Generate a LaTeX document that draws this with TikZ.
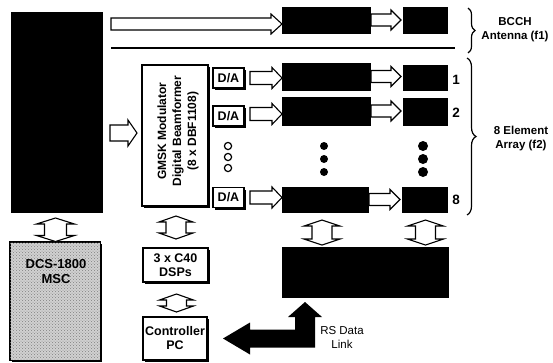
\documentclass[tikz,border=0pt]{standalone}
\usepackage{fontspec}
\setmainfont{Liberation Sans}
\usetikzlibrary{calc,shadows,decorations.pathreplacing,patterns}
\newcommand\harr[5]{%
  \draw[oarr] let \p1=#1, \p2=#2 in (\x1,\y1+#3) -- (\x2-#5,\y1+#3) -- (\x2-#5,\y1+#4) -- (\x2,\y1) -- (\x2-#5,\y1-#4) -- (\x2-#5,\y1-#3) -- (\x1,\y1-#3) -- cycle;}
\newcommand\varr[4]{%
  \draw[oarr] let \p1=#1, \p2=#2 in (\x1,\y1) -- (\x1+#4,\y1-6pt) -- (\x1+#3,\y1-6pt) -- (\x1+#3,\y2+6pt) -- (\x1+#4,\y2+6pt) -- (\x1,\y2) -- (\x1-#4,\y2+6pt) -- (\x1-#3,\y2+6pt) -- (\x1-#3,\y1-6pt) -- (\x1-#4,\y1-6pt) -- cycle;}
\begin{document}
\begin{tikzpicture}[x=1pt,y=-1pt,
  blk/.style={fill=black,draw=black,inner sep=0pt,outer sep=0pt},
  wbox/.style={draw=black,line width=1.3pt,fill=white,inner sep=0pt,outer sep=0pt,align=center,
    font=\fontsize{12.5}{14}\selectfont\bfseries,
    drop shadow={shadow xshift=2pt,shadow yshift=-2pt,fill=black,opacity=1}},
  oarr/.style={draw=black,line width=1.1pt,fill=white,line join=miter},
  lbl/.style={font=\fontsize{11.5}{14}\selectfont\bfseries,align=center,inner sep=0pt},
  num/.style={font=\fontsize{13.5}{15}\selectfont\bfseries,inner sep=0pt},
  brc/.style={decorate,line width=1.2pt}
]
\useasboundingbox (0,0) rectangle (553,362);

% big black block
\node[blk,minimum width=91pt,minimum height=200pt] (big) at (56.5,112) {};

% BCCH row
\node[blk,minimum width=88pt,minimum height=26pt] (b0) at (326,20) {};
\node[blk,minimum width=44pt,minimum height=26pt] (s0) at (425,20) {};
\harr{($(big.north east)+(9,12)$)}{(b0.west)}{6pt}{10pt}{11pt}
\harr{($(b0.east)+(1,0)$)}{($(s0.west)+(-2,0)$)}{6pt}{10pt}{10pt}
\coordinate (la) at ($(big.north east)+(9,36)$);
\coordinate (lb) at (455,48);
\draw[line width=1.3pt] (la) -- (lb);

% GMSK block
\node[wbox,minimum width=66pt,minimum height=141pt] (gm) at (175,135.5) {};
\node[rotate=90,align=center,inner sep=0pt,font=\fontsize{12}{15}\selectfont\bfseries] (gmt) at (178,131)
  {GMSK Modulator\\Digital Beamformer\\(8 x DBF1108)};
\harr{($(big.east)+(8,21)$)}{($(gm.west)+(-5,0)$)}{8pt}{13pt}{9pt}

% D/A boxes
\node[wbox,minimum width=31pt,minimum height=20pt] (d1) at (228.5,78) {D/A};
\node[wbox,minimum width=31pt,minimum height=20pt] (d2) at (228.5,116) {D/A};
\node[wbox,minimum width=31pt,minimum height=20pt] (d8) at (228.5,197.5) {D/A};
\foreach \yy in {146,157,168} \draw[line width=1.2pt] (228,\yy) circle[radius=3.6pt];

% rows
\node[blk,minimum width=88pt,minimum height=27pt] (b1) at (326,76.5) {};
\node[blk,minimum width=44pt,minimum height=25pt] (s1) at (425,77.5) {};
\node[blk,minimum width=88pt,minimum height=28pt] (b2) at (326,111) {};
\node[blk,minimum width=44pt,minimum height=27pt] (s2) at (425,111.5) {};
\node[blk,minimum width=86pt,minimum height=25pt] (b8) at (325,199.5) {};
\node[blk,minimum width=45pt,minimum height=25pt] (s8) at (424.5,199.5) {};
\harr{($(d1.east)+(6,0)$)}{(b1.west)}{6.5pt}{10.5pt}{10pt}
\harr{($(d2.east)+(6,-2)$)}{(b2.west)}{6.5pt}{10.5pt}{10pt}
\harr{($(d8.east)+(6,0)$)}{(b8.west)}{6.5pt}{10.5pt}{10pt}
\harr{($(b1.east)+(1,0)$)}{($(s1.west)+(-2,0)$)}{6pt}{10pt}{10pt}
\harr{($(b2.east)+(1,0)$)}{($(s2.west)+(-2,0)$)}{6pt}{10pt}{10pt}
\harr{($(b8.east)+(1,0)$)}{($(s8.west)+(-2,0)$)}{6pt}{10pt}{10pt}
\foreach \yy in {146,159,172} {
  \fill (324,\yy) circle[radius=4pt];
  \fill (423,\yy) circle[radius=5pt];
}
\node[num] (n1) at (456,80) {1};
\node[num] (n2) at (456,113) {2};
\node[num] (n8) at (456,200) {8};

% braces and labels
\draw[brc,decoration={brace,amplitude=7pt}] (468,8) -- (468,53);
\node[lbl] (bcch) at (515,30) {BCCH\\Antenna (f1)};
\draw[brc,decoration={brace,amplitude=9pt}] (467,58) -- (467,215);
\node[lbl] (arr) at (521,139) {8 Element\\Array (f2)};

% bottom right block
\node[blk,minimum width=166pt,minimum height=50pt] (rx) at (365,272) {};
\varr{($(b8.south)+(-3,8)$)}{($(rx.north)+(0,-2)$)}{10pt}{18pt}
\varr{($(s8.south)+(1,8)$)}{($(rx.north)+(0,-2)$)}{10pt}{18pt}

% DCS-1800 MSC
\node[draw=black,line width=1pt,fill=black!18,minimum width=90pt,minimum height=118pt,inner sep=0pt,
  drop shadow={shadow xshift=2pt,shadow yshift=-1.5pt,fill=black,opacity=1}] (dcs) at (55,301) {};
\fill[pattern=crosshatch dots,pattern color=black!50] (dcs.south west) rectangle (dcs.north east);
\draw[line width=1pt] (dcs.south west) rectangle (dcs.north east);
\node[lbl,font=\fontsize{13}{15}\selectfont\bfseries] (dcst) at (56,272) {DCS-1800\\MSC};
\varr{($(big.south)+(-1,6)$)}{(dcs.north)}{11pt}{19pt}

% DSPs and controller
\node[wbox,minimum width=65pt,minimum height=34pt] (dsp) at (175.5,265) {3 x C40\\DSPs};
\node[wbox,minimum width=64pt,minimum height=43pt] (ctrl) at (175,338.5) {Controller\\PC};
\varr{($(gm.south)+(1,10)$)}{($(dsp.north)+(0,-9)$)}{10pt}{17pt}
\varr{($(dsp.south)+(1,12)$)}{($(ctrl.north)+(0,-5)$)}{10pt}{17pt}

% RS data link arrow
\coordinate (L) at ($(ctrl.east)+(16,0)$);
\coordinate (T) at ($(rx.south west)+(23,5)$);
\coordinate (Ta) at ($(T)+(-10,0)$);
\coordinate (Tb) at ($(T)+(10,0)$);
\coordinate (La) at ($(L)+(0,-9)$);
\coordinate (Lb) at ($(L)+(0,9)$);
\fill (L) -- ($(L)+(27,-16)$) -- ($(L)+(27,-9)$) -- (Ta |- La) -- ($(T)+(-10,15)$) -- ($(T)+(-17,15)$) -- (T)
  -- ($(T)+(17,15)$) -- ($(T)+(10,15)$) -- (Tb |- Lb) -- ($(L)+(27,9)$) -- ($(L)+(27,16)$) -- cycle;
\node[align=center,inner sep=0pt,font=\fontsize{11.5}{14}\selectfont] (rs) at (342,337) {RS Data\\Link};
\end{tikzpicture}
\end{document}
